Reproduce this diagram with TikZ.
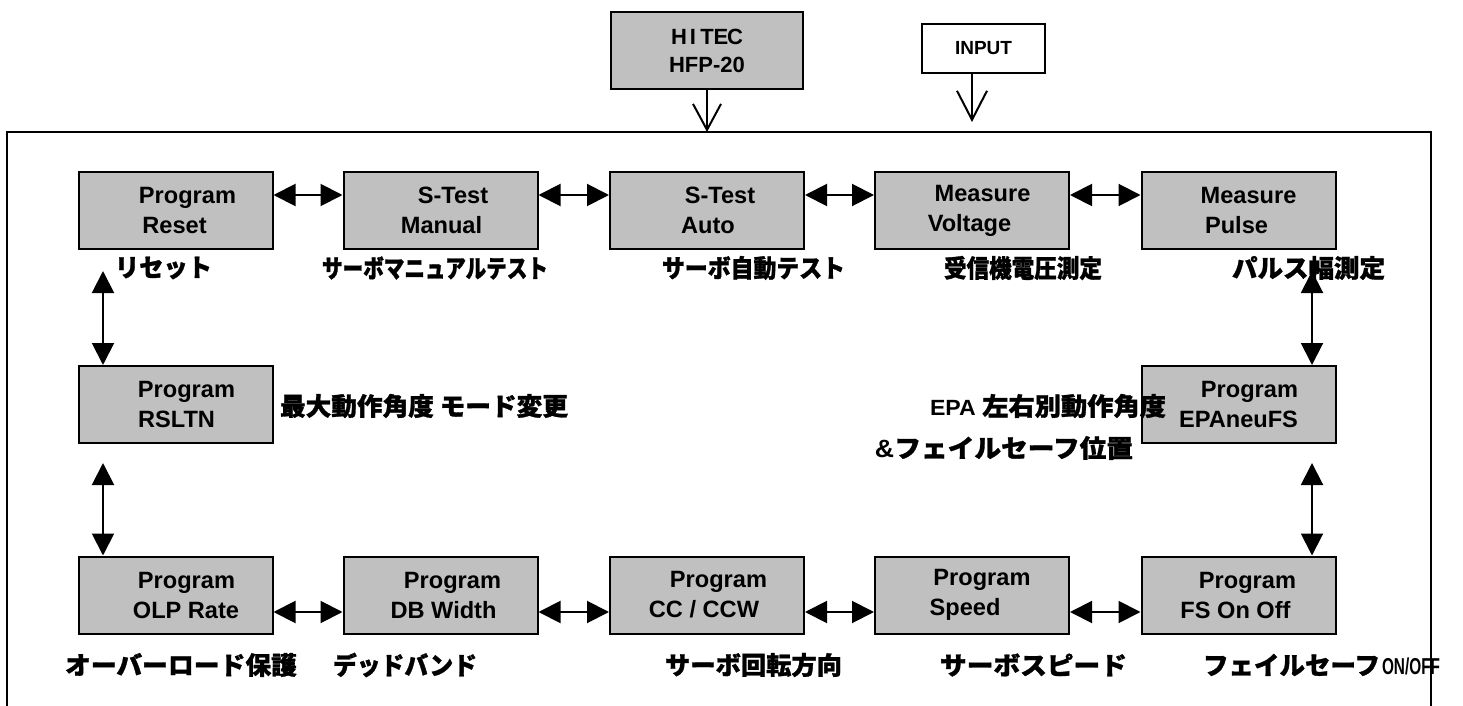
\documentclass[tikz,border=0pt]{standalone}
\usepackage{fontspec}
\usepackage{graphicx}
\setmainfont{Liberation Sans}
\newfontfamily\jp{Noto Sans CJK JP}[BoldFeatures={FakeBold=1.2}]
\usetikzlibrary{arrows.meta}
\definecolor{boxgray}{RGB}{192,192,192}
\newcommand\bxline[2]{\makebox[0pt]{\hspace*{#1pt}#2}}
\newcommand\jt[2]{\resizebox{#1pt}{\height}{\jp\bfseries #2}}
\newcommand\mchar[1]{\makebox[7pt]{#1}}
\tikzset{
  box/.style={draw, line width=1pt, fill=boxgray, minimum width=97pt, minimum height=38.5pt,
    inner sep=0pt, align=center, font=\bfseries\fontsize{11.8}{15}\selectfont},
  lab/.style={inner sep=0pt, font=\fontsize{12.5}{14}\selectfont},
  harr/.style={line width=1pt, {Triangle[length=11pt,width=11pt]}-{Triangle[length=11pt,width=11pt]}},
  varr/.style={line width=1pt, -{Straight Barb[length=13pt,width=14pt]}},
  frame/.style={line width=1pt}
}
\begin{document}
\begin{tikzpicture}[x=0.5pt,y=-0.5pt]
\useasboundingbox (0,0) rectangle (1463,706);
% outer frame
\draw[frame] (7,712) -- (7,132) -- (1431,132) -- (1431,712);
% top boxes
\node[box, minimum width=96pt, font=\bfseries\fontsize{11}{14}\selectfont] (hitec) at (707,50.5)
  {\mchar{H}\mchar{I}\mchar{T}\mchar{E}\mchar{C}\\HFP-20};
\node[draw, line width=1pt, fill=white, minimum width=61.5pt, minimum height=24.5pt, inner sep=0pt,
  font=\bfseries\fontsize{9.5}{11}\selectfont] (inp) at (983.5,48.5) {INPUT};
\coordinate (t1) at (707,132);
\coordinate (t2) at (972,122);
\draw[varr] (hitec.south) -- (t1);
\draw[varr, -{Straight Barb[length=14.5pt,width=15pt]}] ([xshift=-5.75pt]inp.south) -- (t2);
% row 1
\node[box] (b1) at (175.5,210.5) {\bxline{12}{Program}\\\bxline{-1}{Reset}};
\node[box] (b2) at (440.5,210.5) {\bxline{12.5}{S-Test}\\\bxline{1}{Manual}};
\node[box] (b3) at (707,210.5) {\bxline{13}{S-Test}\\\bxline{1}{Auto}};
\node[box] (b4) at (972,210.5) {\bxline{10.5}{Measure}\\\bxline{-2.5}{Voltage}};
\node[box] (b5) at (1238.5,210.5) {\bxline{10}{Measure}\\\bxline{-2}{Pulse}};
% row 2
\node[box] (r1) at (175.5,404.5) {\bxline{11}{Program}\\\bxline{1}{RSLTN}};
\node[box] (r2) at (1238.5,404.5) {\bxline{11}{Program}\\\bxline{0}{EPAneuFS}};
% row 3
\node[box] (c1) at (175.5,595) {\bxline{11}{Program}\\\bxline{10.5}{OLP Rate}};
\node[box] (c2) at (440.5,595) {\bxline{12}{Program}\\\bxline{3}{DB Width}};
\node[box] (c3) at (707,595) {\bxline{11.5}{Program}\\\bxline{-3}{CC / CCW}};
\node[box] (c4) at (972,595) {\bxline{10}{Program}\\\bxline{-7}{Speed}};
\node[box] (c5) at (1238.5,595) {\bxline{9}{Program}\\\bxline{-3}{FS On Off}};
% horizontal connectors
\foreach \a/\b in {b1/b2,b2/b3,b3/b4,b4/b5}
  \draw[harr] ([yshift=7.75pt]\a.east) -- ([yshift=7.75pt]\b.west);
\foreach \a/\b in {c1/c2,c2/c3,c3/c4,c4/c5}
  \draw[harr] ([yshift=-8.5pt]\a.east) -- ([yshift=-8.5pt]\b.west);
% vertical connectors
\draw[harr] ([xshift=-36.25pt,yshift=-10.5pt]b1.south) -- ([xshift=-36.25pt]r1.north);
\draw[harr] ([xshift=-36.25pt,yshift=-9.5pt]r1.south) -- ([xshift=-36.25pt]c1.north);
\draw[harr] ([xshift=36.75pt,yshift=-10.5pt]b5.south) -- ([xshift=36.75pt]r2.north);
\draw[harr] ([xshift=36.75pt,yshift=-9.5pt]r2.south) -- ([xshift=36.75pt]c5.north);
% labels row 1
\node[lab] (l1) at (163.5,268) {\jt{48.5}{リセット}};
\node[lab] (l2) at (435,268) {\jt{113}{サーボマニュアルテスト}};
\node[lab] (l3) at (753.5,268) {\jt{91.5}{サーボ自動テスト}};
\node[lab] (l4) at (1023,268) {\jt{79}{受信機電圧測定}};
\node[lab] (l5) at (1308.5,268) {\jt{76.5}{パルス幅測定}};
% labels row 2
\node[lab] (m1) at (424,406) {\jt{144}{最大動作角度 モード変更}};
\node[lab] (m2) at (1048,406) {\resizebox{118pt}{\height}{{\bfseries\fontsize{11}{12}\selectfont EPA }{\jp\bfseries 左右別動作角度}}};
\node[lab] (m3) at (1004,448) {\resizebox{129pt}{\height}{{\bfseries \&}{\jp\bfseries フェイルセーフ位置}}};
% labels row 3
\node[lab] (n1) at (181,665) {\jt{116}{オーバーロード保護}};
\node[lab] (n2) at (405,665) {\jt{72}{デッドバンド}};
\node[lab] (n3) at (753.5,665) {\jt{88.5}{サーボ回転方向}};
\node[lab] (n4) at (1033.5,665) {\jt{93.5}{サーボスピード}};
\node[lab] (n5) at (1321.5,665) {\jt{88.5}{フェイルセーフ}\hspace{1pt}\resizebox{29pt}{\height}{\bfseries\fontsize{11.5}{12}\selectfont ON/OFF}};
\end{tikzpicture}
\end{document}
